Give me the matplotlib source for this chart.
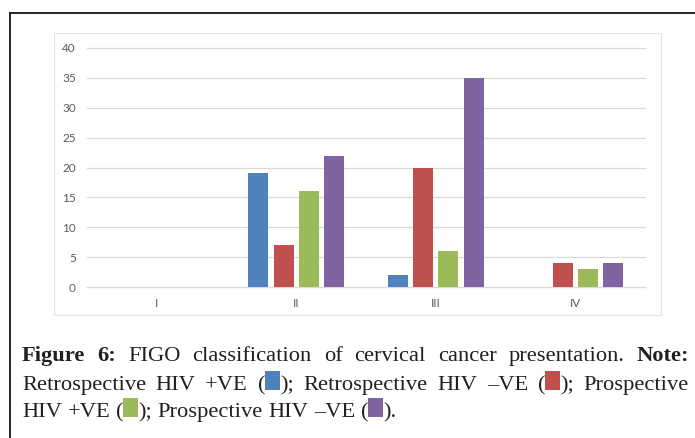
import numpy as np
import matplotlib.pyplot as plt
from matplotlib.patches import Rectangle
from matplotlib.lines import Line2D

# chart data
categories = ['I', 'II', 'III', 'IV']
retro_pos = [0, 19, 2, 0]
retro_neg = [0, 7, 20, 4]
prosp_pos = [0, 16, 6, 3]
prosp_neg = [0, 22, 35, 4]
series = [retro_pos, retro_neg, prosp_pos, prosp_neg]
colors = ['#4F81BD', '#C0504D', '#9BBB59', '#8064A2']
yticks = [0, 5, 10, 15, 20, 25, 30, 35, 40]

W, H = 695, 438
fig = plt.figure(figsize=(W / 100, H / 100), dpi=100)


def fx(px):
    return px / W


def fy(py):
    return 1 - py / H


# outer frame: top and left lines only
fig.add_artist(Line2D([fx(10), 1], [fy(13), fy(13)], color='#222222', lw=1.4))
fig.add_artist(Line2D([fx(10), fx(10)], [fy(13), 0], color='#222222', lw=1.4))
# light border round the chart
fig.add_artist(Rectangle((fx(54), fy(315)), fx(661 - 54), (315 - 33) / H,
                         fill=False, edgecolor='#e3e3e3', lw=0.8))

ax = fig.add_axes([fx(87), fy(287), fx(645 - 87), (287 - 48) / H])
x = np.arange(len(categories))
pitch, width = 0.182, 0.143
for j, (vals, c) in enumerate(zip(series, colors)):
    ax.bar(x + (j - 1.5) * pitch, vals, width, color=c, zorder=3)

ax.set_xlim(-0.5, 3.5)
ax.set_ylim(0, 40)
ax.set_yticks(yticks)
ax.set_xticks(x)
ax.set_xticklabels(categories)
ax.grid(axis='y', color='#d9d9d9', lw=0.9, zorder=0)
for gl in ax.get_ygridlines():
    gl.set_clip_on(False)
for s in ['top', 'right', 'left']:
    ax.spines[s].set_visible(False)
ax.spines['bottom'].set_color('#d9d9d9')
ax.tick_params(axis='both', length=0, labelsize=8.5, labelcolor='#595959')
ax.tick_params(axis='y', pad=8)
ax.tick_params(axis='x', pad=8)
for lab in ax.get_xticklabels() + ax.get_yticklabels():
    lab.set_family('Lato')

# caption, justified like the source page
serif = 'Liberation Serif'
fsize = 16.2
txt_color = '#231f20'
box_w, box_h = 15, 19

lines = [
    [[('b', 'Figure')], [('b', '6:')], [('t', 'FIGO')], [('t', 'classification')],
     [('t', 'of')], [('t', 'cervical')], [('t', 'cancer')], [('t', 'presentation.')],
     [('b', 'Note:')]],
    [[('t', 'Retrospective')], [('t', 'HIV')], [('t', '+VE')],
     [('t', '('), ('box', colors[0]), ('t', ');')],
     [('t', 'Retrospective')], [('t', 'HIV')], [('t', '\u2013VE')],
     [('t', '('), ('box', colors[1]), ('t', ');')], [('t', 'Prospective')]],
    [[('t', 'HIV')], [('t', '+VE')], [('t', '('), ('box', colors[2]), ('t', ');')],
     [('t', 'Prospective')], [('t', 'HIV')], [('t', '\u2013VE')],
     [('t', '('), ('box', colors[3]), ('t', ').')]],
]
baselines = [361, 390, 417]
justify = [True, True, False]
x0, x1 = 22, 689

fig.canvas.draw()
renderer = fig.canvas.get_renderer()
space = fsize * 100 / 72 * 0.25

for words, base, just in zip(lines, baselines, justify):
    measured = []
    for word in words:
        parts = []
        for kind, val in word:
            if kind == 'box':
                parts.append(('box', val, box_w))
            else:
                t = fig.text(0, fy(base), val, fontsize=fsize, family=serif,
                             fontweight='bold' if kind == 'b' else 'normal',
                             color=txt_color, ha='left', va='baseline')
                parts.append(('t', t, t.get_window_extent(renderer).width))
        measured.append(parts)
    total = sum(p[2] for parts in measured for p in parts)
    gap = (x1 - x0 - total) / (len(words) - 1) if just else space
    cx = x0
    for parts in measured:
        for kind, obj, w in parts:
            if kind == 'box':
                fig.add_artist(Rectangle((fx(cx), fy(base)), fx(w), box_h / H,
                                         facecolor=obj, edgecolor='none'))
            else:
                obj.set_x(fx(cx))
            cx += w
        cx += gap

fig.savefig('out.png', dpi=100)
